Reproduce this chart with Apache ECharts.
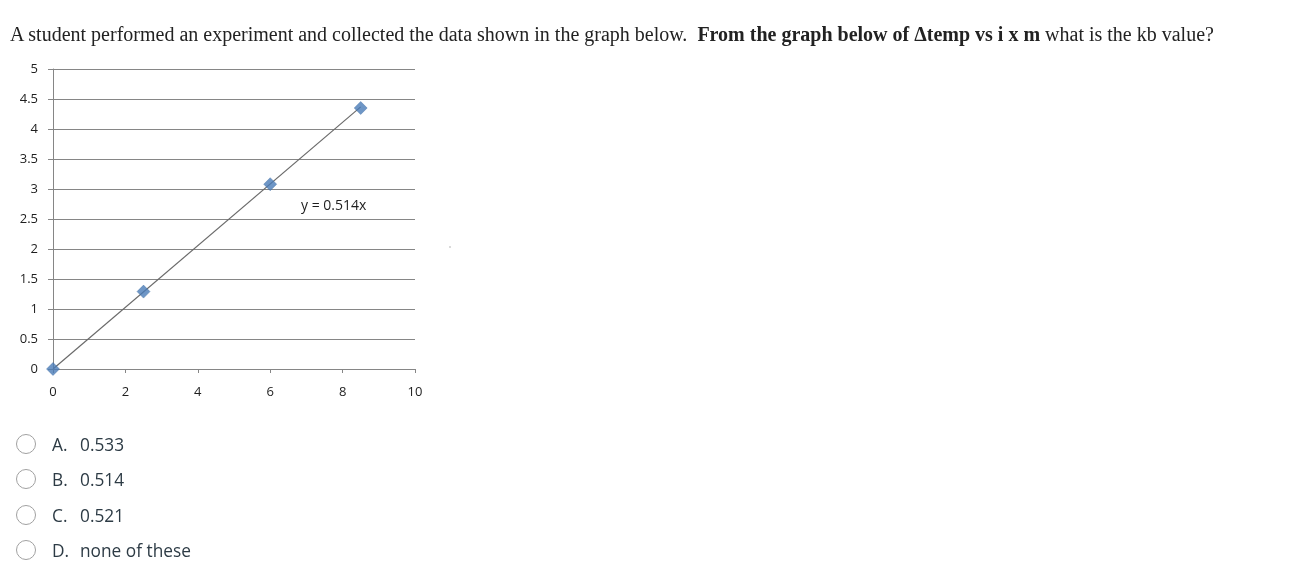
<!DOCTYPE html>
<html>
<head>
<meta charset="utf-8">
<script src="https://cdn.jsdelivr.net/npm/echarts@6/dist/echarts.min.js"></script>
<style>
html,body{margin:0;padding:0;background:#fff;width:1302px;height:577px;overflow:hidden;}
#chart{position:absolute;left:0;top:0;width:1302px;height:577px;}
#q{position:absolute;left:10px;top:23px;font-family:"Liberation Serif","Times New Roman",serif;font-size:20px;color:#222;white-space:nowrap;}
.opt{position:absolute;left:0;font-family:"Open Sans",sans-serif;font-size:17.3px;color:#2D3B45;white-space:nowrap;}
.opt .c{position:absolute;left:16px;width:18px;height:18px;border:1px solid #a0a0a0;border-radius:50%;}
.opt .l{position:absolute;left:52px;}
.opt .v{position:absolute;left:80px;}
</style>
</head>
<body>
<div id="chart"></div>
<div id="q">A student performed an experiment and collected the data shown in the graph below.&nbsp; <b>From the graph below of Δtemp vs i x m</b> what is the kb value?</div>
<div id="opts"></div>
<script>
// Data
const xValues = [0, 2.5, 6, 8.5];
const yValues = [0, 1.29, 3.08, 4.35];
const slope = 0.514;
const trendX = [0, 8.5];
const equationLabel = 'y = 0.514x';
const optionLetters = ['A.', 'B.', 'C.', 'D.'];
const optionTexts = ['0.533', '0.514', '0.521', 'none of these'];

// options list
const optTops = [433, 468, 504, 539];
const optsEl = document.getElementById('opts');
optionLetters.forEach((l, i) => {
  const d = document.createElement('div');
  d.className = 'opt';
  d.style.top = optTops[i] + 'px';
  d.innerHTML = '<span class="c" style="top:1px"></span><span class="l">' + l + '</span><span class="v">' + optionTexts[i] + '</span>';
  optsEl.appendChild(d);
});

const chart = echarts.init(document.getElementById('chart'));
const pts = xValues.map((x, i) => [x, yValues[i]]);
const trend = trendX.map(x => [x, +(slope * x).toFixed(4)]);
const axisGray = '#868686';
const labelStyle = {color: '#1e1e1e', fontFamily: 'Open Sans, sans-serif', fontSize: 13};
chart.setOption({
  animation: false,
  grid: {left: 53, top: 69, width: 362, height: 300, containLabel: false},
  xAxis: {
    type: 'value', min: 0, max: 10, interval: 2,
    axisLine: {show: true, lineStyle: {color: axisGray, width: 1}},
    axisTick: {show: true, length: 4, lineStyle: {color: axisGray}},
    splitLine: {show: false},
    axisLabel: Object.assign({margin: 17}, labelStyle)
  },
  yAxis: {
    type: 'value', min: 0, max: 5, interval: 0.5,
    axisLine: {show: true, lineStyle: {color: axisGray, width: 1}},
    axisTick: {show: true, length: 5, lineStyle: {color: axisGray}},
    splitLine: {show: true, lineStyle: {color: axisGray, width: 1}},
    axisLabel: Object.assign({margin: 15}, labelStyle)
  },
  series: [
    {
      type: 'line', data: trend, symbol: 'none', z: 2,
      lineStyle: {color: '#6a6a6a', width: 1.2}
    },
    {
      type: 'scatter', data: pts, symbol: 'diamond', symbolSize: 13, z: 3,
      itemStyle: {color: '#4a7cb8', borderColor: '#3a68a0', borderWidth: 0.5}
    }
  ],
  graphic: [
    {type: 'text', left: 301, top: 199, style: {text: equationLabel, fill: '#1e1e1e', font: '14px "Open Sans", sans-serif'}},
    {type: 'circle', shape: {cx: 450, cy: 247, r: 0.8}, style: {fill: '#aaa'}}
  ]
});
</script>
</body>
</html>
